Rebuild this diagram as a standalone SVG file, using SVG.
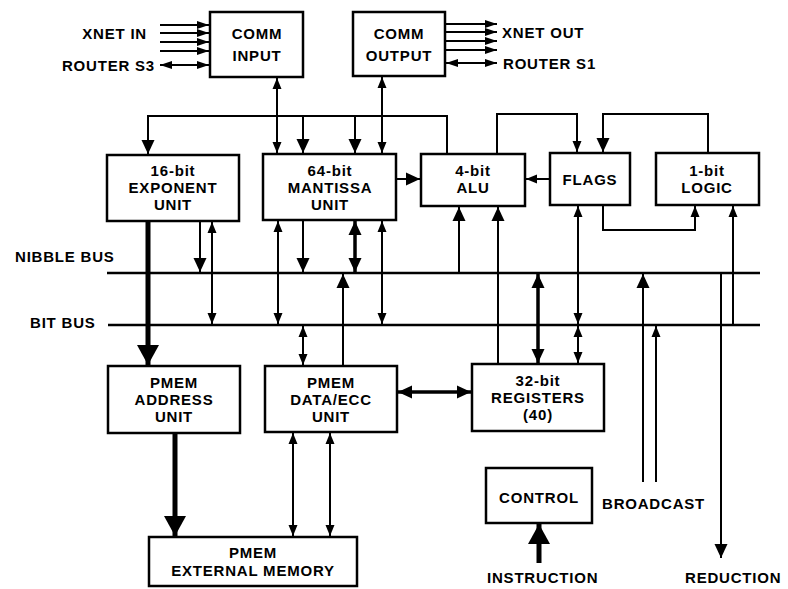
<svg xmlns="http://www.w3.org/2000/svg" width="788" height="589" viewBox="0 0 788 589">
<defs>
<style>
.box{fill:#fff;stroke:#000;stroke-width:2.5}
.t{font-family:"Liberation Sans",Arial,Helvetica,sans-serif;font-weight:bold;font-size:15px;letter-spacing:0.8px;fill:#000}
.c{text-anchor:middle}
.ln{fill:none;stroke:#000;stroke-width:2}
.bus{fill:none;stroke:#000;stroke-width:2.5}
.th{fill:none;stroke:#000;stroke-width:3.5}
.tk{fill:none;stroke:#000;stroke-width:5}
</style>
<marker id="a" markerUnits="userSpaceOnUse" markerWidth="11" markerHeight="10" viewBox="0 0 11 10" refX="11" refY="5" orient="auto-start-reverse"><path d="M0,0.5 L11,5 L0,9.5 z" fill="#000"/></marker>
<marker id="m" markerUnits="userSpaceOnUse" markerWidth="14" markerHeight="14" viewBox="0 0 14 14" refX="14" refY="7" orient="auto-start-reverse"><path d="M0,0.5 L14,7 L0,13.5 z" fill="#000"/></marker>
<marker id="x" markerUnits="userSpaceOnUse" markerWidth="12" markerHeight="9" viewBox="0 0 12 9" refX="12" refY="4.5" orient="auto-start-reverse"><path d="M0,0.5 L12,4.5 L0,8.5 z" fill="#000"/></marker>
<marker id="b" markerUnits="userSpaceOnUse" markerWidth="20" markerHeight="22" viewBox="0 0 20 22" refX="20" refY="11" orient="auto-start-reverse"><path d="M0,0 L20,11 L0,22 z" fill="#000"/></marker>
</defs>
<rect width="788" height="589" fill="#fff"/>

<g id="connectors">
<!-- XNET IN / ROUTER S3 -->
<path class="ln" d="M160,25 H209" marker-end="url(#x)"/>
<path class="ln" d="M160,33 H209" marker-end="url(#x)"/>
<path class="ln" d="M160,42 H209" marker-end="url(#x)"/>
<path class="ln" d="M160,51 H209" marker-end="url(#x)"/>
<path class="ln" d="M160,65 H209" marker-start="url(#x)" marker-end="url(#x)"/>
<!-- XNET OUT / ROUTER S1 -->
<path class="ln" d="M446,24 H497" marker-end="url(#x)"/>
<path class="ln" d="M446,32 H497" marker-end="url(#x)"/>
<path class="ln" d="M446,41 H497" marker-end="url(#x)"/>
<path class="ln" d="M446,50 H497" marker-end="url(#x)"/>
<path class="ln" d="M446,63 H497" marker-start="url(#x)" marker-end="url(#x)"/>
<!-- COMM to mantissa -->
<path class="ln" d="M277,78 V153" marker-start="url(#a)" marker-end="url(#a)"/>
<path class="ln" d="M382,77 V153" marker-start="url(#a)" marker-end="url(#a)"/>
<!-- ALU output bus -->
<path class="ln" d="M447,153 V116 H148 V154" marker-end="url(#m)"/>
<path class="ln" d="M303,116 V153" marker-end="url(#m)"/>
<path class="ln" d="M355,116 V153" marker-end="url(#m)"/>
<!-- ALU -> FLAGS, LOGIC -> FLAGS -->
<path class="ln" d="M497,153 V114 H577 V152" marker-end="url(#a)"/>
<path class="ln" d="M708,152 V114 H603 V152" marker-end="url(#m)"/>
<!-- Mantissa -> ALU, FLAGS -> ALU -->
<path class="ln" d="M397,179 H420" marker-end="url(#m)"/>
<path class="ln" d="M549,179 H526" marker-end="url(#a)"/>
<!-- Exponent -->
<path class="ln" d="M200,222 V272" marker-end="url(#m)"/>
<path class="ln" d="M212,222 V324" marker-start="url(#a)" marker-end="url(#a)"/>
<path class="tk" d="M148,222 V365" marker-end="url(#b)"/>
<!-- Mantissa bottom -->
<path class="ln" d="M278,221 V324" marker-start="url(#a)" marker-end="url(#a)"/>
<path class="ln" d="M303,221 V272" marker-end="url(#m)"/>
<path class="th" d="M355,221 V272" marker-start="url(#m)" marker-end="url(#m)"/>
<path class="ln" d="M382,221 V324" marker-start="url(#a)" marker-end="url(#a)"/>
<!-- PMEM DATA -->
<path class="ln" d="M343,365 V274" marker-end="url(#m)"/>
<path class="ln" d="M303,326 V365" marker-start="url(#a)" marker-end="url(#a)"/>
<!-- ALU bottom -->
<path class="ln" d="M459,273 V207" marker-end="url(#m)"/>
<path class="ln" d="M498,363 V207" marker-end="url(#m)"/>
<!-- Registers -->
<path class="th" d="M538,274 V363" marker-start="url(#m)" marker-end="url(#m)"/>
<path class="ln" d="M578,206 V324" marker-start="url(#a)" marker-end="url(#a)"/>
<path class="ln" d="M578,326 V363" marker-start="url(#a)" marker-end="url(#a)"/>
<!-- FLAGS -> LOGIC -->
<path class="ln" d="M603,206 V230 H695 V206" marker-end="url(#a)"/>
<path class="ln" d="M733,325 V206" marker-end="url(#a)"/>
<!-- Broadcast / Reduction -->
<path class="ln" d="M643,482 V274" marker-end="url(#m)"/>
<path class="ln" d="M656,482 V326" marker-end="url(#a)"/>
<path class="ln" d="M721,273 V558" marker-end="url(#m)"/>
<!-- Registers <-> PMEM DATA -->
<path class="th" d="M398,392 H471" marker-start="url(#m)" marker-end="url(#m)"/>
<!-- PMEM ADDRESS -> EXT MEMORY -->
<path class="tk" d="M175,434 V536" marker-end="url(#b)"/>
<path class="ln" d="M293,433 V536" marker-start="url(#a)" marker-end="url(#a)"/>
<path class="ln" d="M330,433 V536" marker-start="url(#a)" marker-end="url(#a)"/>
<!-- INSTRUCTION -> CONTROL -->
<path class="tk" d="M539,563 V524" marker-end="url(#b)"/>
<!-- buses -->
<path class="bus" d="M107,273 H760"/>
<path class="bus" d="M108,325 H760"/>
</g>

<g id="comm-input"><rect class="box" x="210" y="12" width="93" height="65"/>
<text class="t c" x="257" y="39">COMM</text><text class="t c" x="257" y="61">INPUT</text></g>
<g id="comm-output"><rect class="box" x="353" y="12" width="92" height="64"/>
<text class="t c" x="399" y="39">COMM</text><text class="t c" x="399" y="61">OUTPUT</text></g>
<g id="exponent"><rect class="box" x="107" y="155" width="132" height="66"/>
<text class="t c" x="173" y="176">16-bit</text><text class="t c" x="173" y="193">EXPONENT</text><text class="t c" x="173" y="210">UNIT</text></g>
<g id="mantissa"><rect class="box" x="263" y="154" width="133" height="66"/>
<text class="t c" x="330" y="176">64-bit</text><text class="t c" x="330" y="193">MANTISSA</text><text class="t c" x="330" y="210">UNIT</text></g>
<g id="alu"><rect class="box" x="421" y="154" width="104" height="52"/>
<text class="t c" x="473" y="176">4-bit</text><text class="t c" x="473" y="193">ALU</text></g>
<g id="flags"><rect class="box" x="550" y="153" width="80" height="52"/>
<text class="t c" x="590" y="185">FLAGS</text></g>
<g id="logic"><rect class="box" x="656" y="153" width="103" height="52"/>
<text class="t c" x="707" y="176">1-bit</text><text class="t c" x="707" y="193">LOGIC</text></g>
<g id="pmem-address"><rect class="box" x="108" y="366" width="132" height="67"/>
<text class="t c" x="174" y="388">PMEM</text><text class="t c" x="174" y="405">ADDRESS</text><text class="t c" x="174" y="422">UNIT</text></g>
<g id="pmem-data"><rect class="box" x="265" y="366" width="132" height="66"/>
<text class="t c" x="331" y="388">PMEM</text><text class="t c" x="331" y="405">DATA/ECC</text><text class="t c" x="331" y="422">UNIT</text></g>
<g id="registers"><rect class="box" x="472" y="364" width="132" height="67"/>
<text class="t c" x="538" y="386">32-bit</text><text class="t c" x="538" y="403">REGISTERS</text><text class="t c" x="538" y="420">(40)</text></g>
<g id="control"><rect class="box" x="486" y="468" width="106" height="55"/>
<text class="t c" x="539" y="503">CONTROL</text></g>
<g id="ext-memory"><rect class="box" x="149" y="537" width="208" height="49"/>
<text class="t c" x="253" y="558">PMEM</text><text class="t c" x="253" y="576">EXTERNAL MEMORY</text></g>

<g id="labels">
<text class="t" x="147" y="39" text-anchor="end">XNET IN</text>
<text class="t" x="155" y="71" text-anchor="end">ROUTER S3</text>
<text class="t" x="502" y="38">XNET OUT</text>
<text class="t" x="503" y="69">ROUTER S1</text>
<text class="t" x="15" y="262">NIBBLE BUS</text>
<text class="t" x="30" y="328">BIT BUS</text>
<text class="t" x="602" y="509">BROADCAST</text>
<text class="t" x="487" y="583">INSTRUCTION</text>
<text class="t" x="685" y="583">REDUCTION</text>
</g>
</svg>
